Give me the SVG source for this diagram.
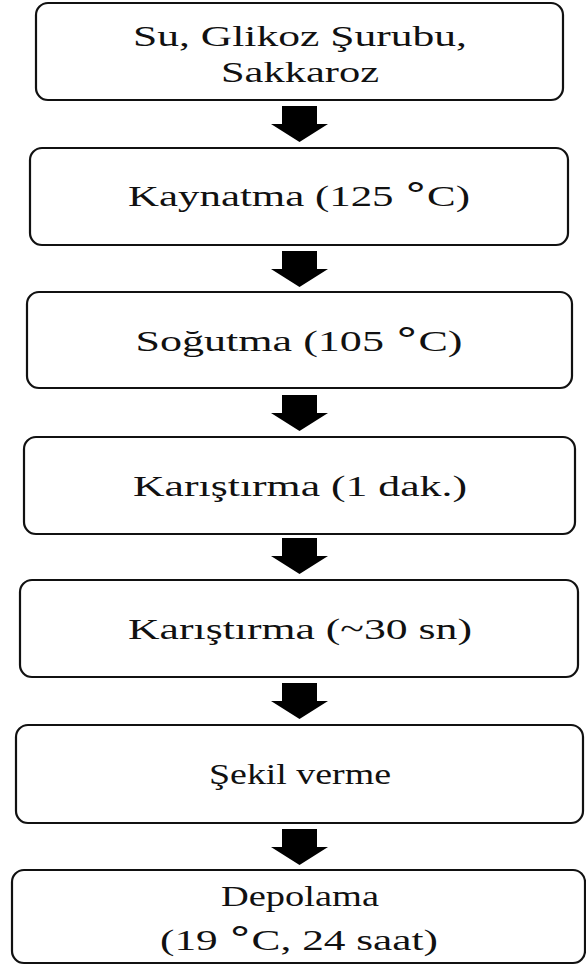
<svg xmlns="http://www.w3.org/2000/svg" width="586" height="965" viewBox="0 0 586 965">
<style>
.box{fill:#fff;stroke:#111;stroke-width:2.2}
.t{font-family:"Liberation Serif","Times New Roman",serif;font-size:30px;fill:#111;text-anchor:middle}
.deg{font-family:"DejaVu Sans",sans-serif;font-size:32px}
.arr{fill:#000}
</style>
<rect width="586" height="965" fill="#fff"/>
<g id="connectors">
<polygon class="arr" points="282,106 317,106 317,124 328,124 299.5,142 271,124 282,124"/>
<polygon class="arr" points="282,251 317,251 317,269 328,269 299.5,287 271,269 282,269"/>
<polygon class="arr" points="282,395 317,395 317,413 328,413 299.5,431 271,413 282,413"/>
<polygon class="arr" points="282,538 317,538 317,556 328,556 299.5,574 271,556 282,556"/>
<polygon class="arr" points="282,683 317,683 317,701 328,701 299.5,719 271,701 282,701"/>
<polygon class="arr" points="282,829 317,829 317,847 328,847 299.5,865 271,847 282,847"/>
</g>
<g id="n1"><rect class="box" x="36" y="3" width="527" height="97" rx="12"/>
<text class="t" x="300" y="46" textLength="334" lengthAdjust="spacingAndGlyphs">Su, Glikoz Şurubu,</text>
<text class="t" x="300" y="82" textLength="158" lengthAdjust="spacingAndGlyphs">Sakkaroz</text></g>
<g id="n2"><rect class="box" x="30" y="148" width="538" height="97" rx="12"/>
<text class="t" x="299" y="206" textLength="342" lengthAdjust="spacingAndGlyphs">Kaynatma (125 <tspan class="deg">°</tspan>C)</text></g>
<g id="n3"><rect class="box" x="27" y="292" width="545" height="96" rx="12"/>
<text class="t" x="299" y="351" textLength="327" lengthAdjust="spacingAndGlyphs">Soğutma  (105 <tspan class="deg">°</tspan>C)</text></g>
<g id="n4"><rect class="box" x="24" y="437" width="551" height="97" rx="12"/>
<text class="t" x="300" y="496" textLength="334" lengthAdjust="spacingAndGlyphs">Karıştırma (1 dak.)</text></g>
<g id="n5"><rect class="box" x="20" y="580" width="558" height="97" rx="12"/>
<text class="t" x="300" y="639" textLength="344" lengthAdjust="spacingAndGlyphs">Karıştırma (~30 sn)</text></g>
<g id="n6"><rect class="box" x="16" y="725" width="567" height="98" rx="12"/>
<text class="t" x="300" y="784" textLength="182" lengthAdjust="spacingAndGlyphs">Şekil verme</text></g>
<g id="n7"><rect class="box" x="12" y="870" width="573" height="93" rx="12"/>
<text class="t" x="300" y="906" textLength="158" lengthAdjust="spacingAndGlyphs">Depolama</text>
<text class="t" x="299" y="950" textLength="278" lengthAdjust="spacingAndGlyphs">(19 <tspan class="deg">°</tspan>C, 24 saat)</text></g>
</svg>
